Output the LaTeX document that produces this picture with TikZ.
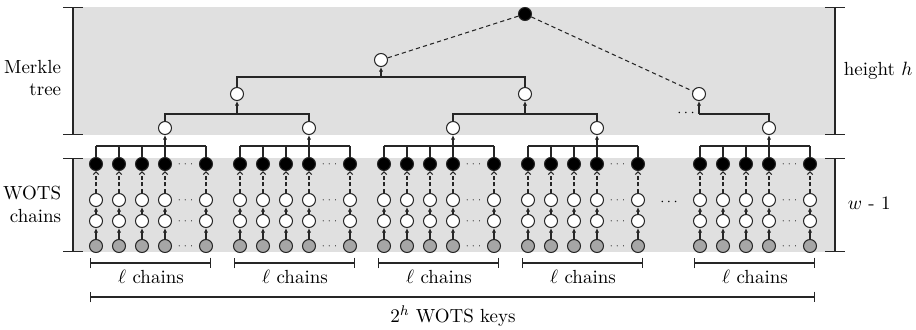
\documentclass[tikz,border=0pt]{standalone}
\usepackage{tikz}
\usetikzlibrary{arrows.meta}
\tikzset{
	hashnode/.style={circle, draw=black!85, line width=0.6pt, minimum size=0.26cm, inner sep=0pt},
	pubkey/.style={hashnode, fill=black},
	midkey/.style={hashnode, fill=white},
	seckey/.style={hashnode, fill=black!35},
	hashline/.style={line width=0.6pt, draw=black!85},
	chainarrow/.style={hashline, -{Latex[length=2.6pt,width=2.4pt]}},
	dasharrow/.style={hashline, dash pattern=on 2.2pt off 1.6pt, -{Straight Barb[length=1.6pt,width=3pt]}},
	rootline/.style={hashline, dash pattern=on 2.4pt off 1.8pt},
	sidebar/.style={hashline, {Bar[width=11pt]}-{Bar[width=11pt]}},
	spanbar/.style={hashline, {Bar[width=6pt]}-{Bar[width=6pt]}},
	fewdots/.style={font=\tiny, inner sep=0pt},
	labeltext/.style={font=\fontsize{10.8}{13}\selectfont, inner sep=2pt},
}

\begin{document}
\begin{tikzpicture}[x=0.02cm, y=-0.02cm]
	%%%%% START %%%%%
	\useasboundingbox (0,0) rectangle (916,329);
	
	\fill[black!12] (73,7) rectangle (835,135);
	\fill[black!12] (73,158) rectangle (835,252);
	
	\draw[sidebar] (73,7) -- (73,135);
	\draw[sidebar] (73,158) -- (73,252);
	\draw[sidebar] (835,7) -- (835,135);
	\draw[sidebar] (835,158) -- (835,252);
	
	\node[labeltext, anchor=east, align=right] (merkle) at (65,78) {Merkle\\tree};
	\node[labeltext, anchor=east, align=right] (wots) at (65,204) {WOTS\\chains};
	\node[labeltext, anchor=west] (height) at (840,71) {height $h$};
	\node[labeltext, anchor=west] (wminus) at (844,203) {$w$ - 1};
	
	%%%%% CHAINS %%%%%
	\foreach \g/\gx in {1/96,2/240,3/384,4/528,5/700}{
		\coordinate (cl-\g) at (\gx,146);
		\coordinate (cr-\g) at (\gx+110,146);
		\draw[hashline] (cl-\g) -- (cr-\g);
		\foreach \c/\cx in {1/0,2/23,3/46,4/69,5/110}{
			\node[seckey] (sk-\g-\c) at (\gx+\cx,246) {};
			\node[midkey] (cb-\g-\c) at (\gx+\cx,221) {};
			\node[midkey] (ca-\g-\c) at (\gx+\cx,200) {};
			\node[pubkey] (pk-\g-\c) at (\gx+\cx,164) {};
			\draw[chainarrow] (sk-\g-\c) -- (cb-\g-\c);
			\draw[chainarrow] (cb-\g-\c) -- (ca-\g-\c);
			\draw[dasharrow] (ca-\g-\c) -- (pk-\g-\c);
			\draw[hashline] (pk-\g-\c) -- (pk-\g-\c |- cl-\g);
		}
		\foreach \y in {164,200,221,246}
			\node[fewdots] at (\gx+89.5,\y) {$\cdots$};
		\node[midkey] (l1-\g) at (\gx+69,128) {};
		\draw[chainarrow] (pk-\g-4 |- cl-\g) -- (l1-\g);
		\draw[spanbar] (\gx-6,263) -- (\gx+115,263);
		\node[labeltext] (chains-\g) at (\gx+55,277) {$\ell$ chains};
	}
	\node[font=\footnotesize] (groupdots) at (669,202) {$\cdots$};
	
	%%%%% TREE %%%%%
	\node[midkey] (l2-1) at (237,94) {};
	\node[midkey] (l2-2) at (525,94) {};
	\node[midkey] (l2-3) at (699,94) {};
	\node[midkey] (l3-1) at (381,60) {};
	\node[pubkey] (root) at (525,14) {};
	
	\coordinate (j2-1) at (237,114);
	\coordinate (j2-2) at (525,114);
	\coordinate (j2-3) at (699,114);
	\coordinate (j3-1) at (381,77);
	
	\draw[hashline] (l1-1) |- (j2-1) -| (l1-2);
	\draw[chainarrow] (j2-1) -- (l2-1);
	\draw[hashline] (l1-3) |- (j2-2) -| (l1-4);
	\draw[chainarrow] (j2-2) -- (l2-2);
	\draw[hashline] (l2-1) |- (j3-1) -| (l2-2);
	\draw[chainarrow] (j3-1) -- (l3-1);
	\draw[hashline] (l1-5) |- (j2-3);
	\draw[chainarrow] (j2-3) -- (l2-3);
	\node[fewdots, font=\footnotesize] (treedots) at (686,113) {$\cdots$};
	
	\draw[rootline] (root) -- (l3-1);
	\draw[rootline] (root) -- (l2-3);
	
	\draw[spanbar] (90,297) -- (815,297);
	\node[labeltext] (keys) at (453,316) {$2^h$ WOTS keys};
	
	%%%%% END %%%%%
\end{tikzpicture}
\end{document}
